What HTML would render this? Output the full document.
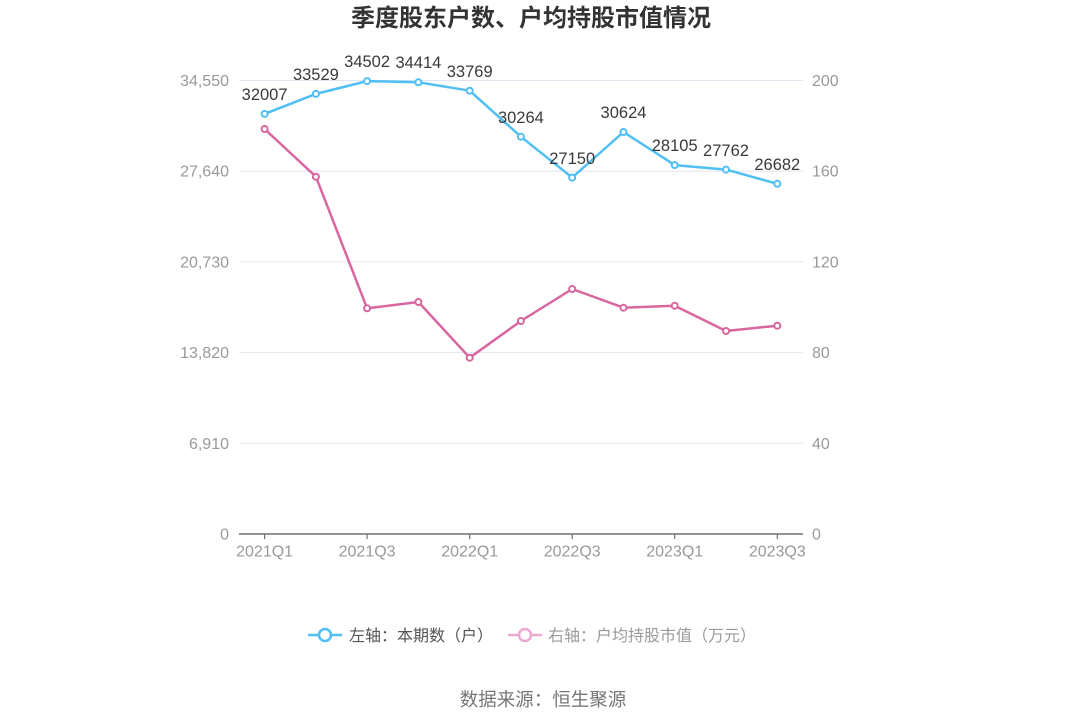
<!DOCTYPE html>
<html><head><meta charset="utf-8"><style>
html,body{margin:0;padding:0;background:#fff;}
svg{display:block;}
text{font-family:"Liberation Sans","Noto Sans CJK SC",sans-serif;}
.cjk{font-family:"Noto Sans CJK SC","Liberation Sans",sans-serif;}
</style></head><body>
<svg width="1086" height="728" viewBox="0 0 1086 728" xmlns="http://www.w3.org/2000/svg">
<rect width="1086" height="728" fill="#fff"/>
<text x="531" y="26" text-anchor="middle" class="cjk" font-size="24" font-weight="bold" fill="#333">季度股东户数、户均持股市值情况</text>
<g stroke="#e0e6f1" stroke-width="1">
<line x1="239" y1="80.5" x2="803" y2="80.5"/>
<line x1="239" y1="171.2" x2="803" y2="171.2"/>
<line x1="239" y1="261.9" x2="803" y2="261.9"/>
<line x1="239" y1="352.6" x2="803" y2="352.6"/>
<line x1="239" y1="443.3" x2="803" y2="443.3"/>
</g>
<line x1="239" y1="534" x2="803" y2="534" stroke="#6e7079" stroke-width="1.5"/>
<g stroke="#6e7079" stroke-width="1.2">
<line x1="264.6" y1="534" x2="264.6" y2="539"/>
<line x1="367.1" y1="534" x2="367.1" y2="539"/>
<line x1="469.7" y1="534" x2="469.7" y2="539"/>
<line x1="572.2" y1="534" x2="572.2" y2="539"/>
<line x1="674.7" y1="534" x2="674.7" y2="539"/>
<line x1="777.3" y1="534" x2="777.3" y2="539"/>
</g>
<g font-size="16" fill="#999" text-anchor="end">
<text x="229" y="86">34,550</text>
<text x="229" y="176.5">27,640</text>
<text x="229" y="267.5">20,730</text>
<text x="229" y="358">13,820</text>
<text x="229" y="449">6,910</text>
<text x="229" y="539.5">0</text>
</g>
<g font-size="16" fill="#999" text-anchor="start">
<text x="812" y="86">200</text>
<text x="812" y="176.5">160</text>
<text x="812" y="267.5">120</text>
<text x="812" y="358">80</text>
<text x="812" y="449">40</text>
<text x="812" y="539.5">0</text>
</g>
<g font-size="16" fill="#999" text-anchor="middle">
<text x="264.6" y="556.5">2021Q1</text>
<text x="367.1" y="556.5">2021Q3</text>
<text x="469.7" y="556.5">2022Q1</text>
<text x="572.2" y="556.5">2022Q3</text>
<text x="674.7" y="556.5">2023Q1</text>
<text x="777.3" y="556.5">2023Q3</text>
</g>
<!-- pink series -->
<polyline fill="none" stroke="#d9669f" stroke-width="2.5" stroke-linejoin="round" points="264.6,129 315.9,176.7 367.1,308.3 418.4,302 469.7,357.7 520.9,321 572.2,289 623.5,307.7 674.7,305.7 726,331 777.3,325.7"/>
<g fill="#fff" stroke="#d9669f" stroke-width="2">
<circle cx="264.6" cy="129" r="3"/><circle cx="315.9" cy="176.7" r="3"/><circle cx="367.1" cy="308.3" r="3"/><circle cx="418.4" cy="302" r="3"/><circle cx="469.7" cy="357.7" r="3"/><circle cx="520.9" cy="321" r="3"/><circle cx="572.2" cy="289" r="3"/><circle cx="623.5" cy="307.7" r="3"/><circle cx="674.7" cy="305.7" r="3"/><circle cx="726" cy="331" r="3"/><circle cx="777.3" cy="325.7" r="3"/>
</g>
<!-- blue series -->
<polyline fill="none" stroke="#4fbff4" stroke-width="2.5" stroke-linejoin="round" points="264.6,113.9 315.9,93.9 367.1,81.1 418.4,82.3 469.7,90.7 520.9,136.7 572.2,177.6 623.5,132 674.7,165.1 726,169.6 777.3,183.8"/>
<g fill="#fff" stroke="#4fbff4" stroke-width="2">
<circle cx="264.6" cy="113.9" r="3"/><circle cx="315.9" cy="93.9" r="3"/><circle cx="367.1" cy="81.1" r="3"/><circle cx="418.4" cy="82.3" r="3"/><circle cx="469.7" cy="90.7" r="3"/><circle cx="520.9" cy="136.7" r="3"/><circle cx="572.2" cy="177.6" r="3"/><circle cx="623.5" cy="132" r="3"/><circle cx="674.7" cy="165.1" r="3"/><circle cx="726" cy="169.6" r="3"/><circle cx="777.3" cy="183.8" r="3"/>
</g>
<g font-size="16.5" fill="#3a3a3a" text-anchor="middle">
<text x="264.6" y="100">32007</text>
<text x="315.9" y="80">33529</text>
<text x="367.1" y="67">34502</text>
<text x="418.4" y="68">34414</text>
<text x="469.7" y="77">33769</text>
<text x="520.9" y="123">30264</text>
<text x="572.2" y="164">27150</text>
<text x="623.5" y="118">30624</text>
<text x="674.7" y="151">28105</text>
<text x="726" y="156">27762</text>
<text x="777.3" y="170">26682</text>
</g>
<!-- legend -->
<line x1="308" y1="635" x2="342" y2="635" stroke="#4fbff4" stroke-width="2.5"/>
<circle cx="325" cy="635" r="6" fill="#fff" stroke="#4fbff4" stroke-width="2.5"/>
<text x="349" y="641" class="cjk" font-size="16" fill="#555">左轴：本期数（户）</text>
<line x1="508" y1="635" x2="542" y2="635" stroke="#eba8d0" stroke-width="2.5"/>
<circle cx="525" cy="635" r="6" fill="#fff" stroke="#eba8d0" stroke-width="2.5"/>
<text x="548" y="641" class="cjk" font-size="16" fill="#9a9a9a">右轴：户均持股市值（万元）</text>
<text x="543" y="706" text-anchor="middle" class="cjk" font-size="18.5" fill="#777">数据来源：恒生聚源</text>
</svg>
</body></html>
